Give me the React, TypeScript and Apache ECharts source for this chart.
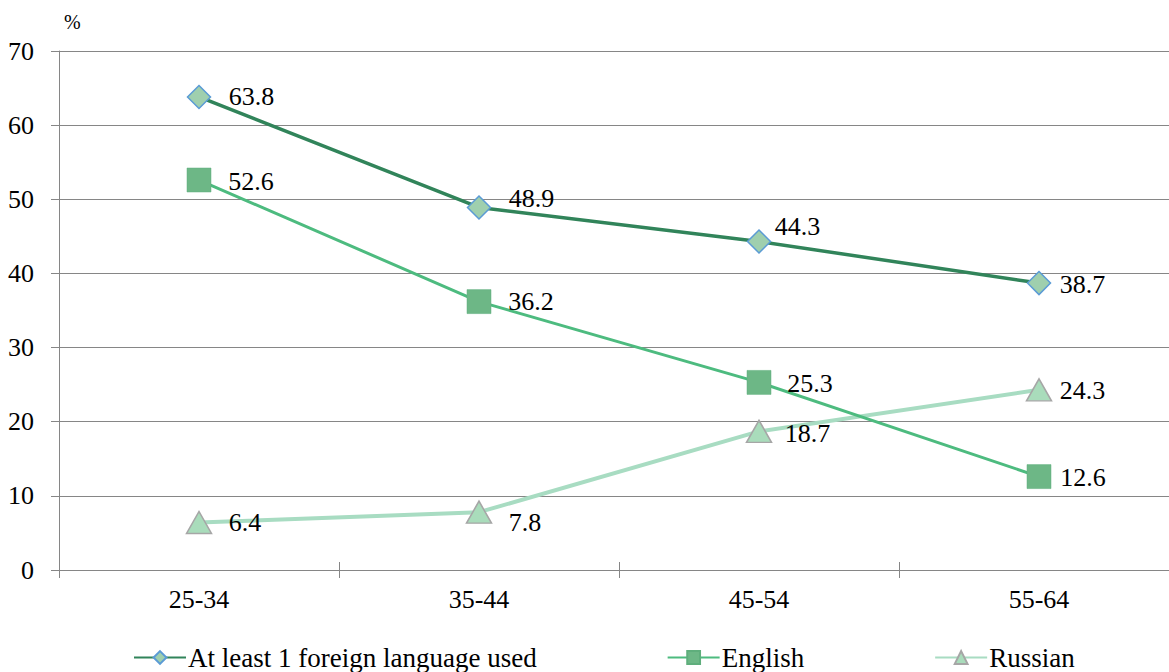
import React, { useEffect, useRef } from "react";
import * as echarts from "echarts";

const categories = ["25-34", "35-44", "45-54", "55-64"];
const atLeastOne = [63.8, 48.9, 44.3, 38.7];
const english = [52.6, 36.2, 25.3, 12.6];
const russian = [6.4, 7.8, 18.7, 24.3];
const yTicks = { min: 0, max: 70, interval: 10 };

const FONT = "Liberation Serif";
const AXIS_GREY = "#868686";

// per-point label nudges (pixels)
const atLeastOneOffsets = [[0, 0], [0, -9], [-14, -15], [-9, 1]];
const englishOffsets = [[0, 1], [0, 0], [-1, 1], [-8, 1]];
const russianOffsets = [[0, 0], [0, 10], [-4, 2], [-9, 1]];

function withOffsets(values: number[], offsets: number[][]) {
  return values.map((v, i) => ({ value: v, label: { offset: offsets[i] } }));
}

export default function App() {
  const ref = useRef<HTMLDivElement>(null);
  useEffect(() => {
    if (!ref.current) return;
    const chart = echarts.init(ref.current, undefined, { renderer: "svg" });
    const labelBase = {
      show: true,
      position: "right",
      color: "#000",
      fontFamily: FONT,
      fontSize: 26,
    };
    chart.setOption({
      animation: false,
      backgroundColor: "#ffffff",
      grid: { left: 59, top: 51, right: 1, height: 519, containLabel: false },
      graphic: [
        {
          type: "text",
          left: 64,
          top: 12,
          style: { text: "%", fontFamily: FONT, fontSize: 20, fill: "#000" },
        },
      ],
      legend: {
        left: 133,
        top: 644,
        padding: 0,
        itemWidth: 52,
        itemHeight: 16,
        itemGap: 130,
        textStyle: { fontFamily: FONT, fontSize: 27, color: "#000", padding: [0, 0, 0, -3] },
        data: ["At least 1 foreign language used", "English", "Russian"],
      },
      xAxis: [
        {
          type: "category",
          data: categories,
          boundaryGap: true,
          axisLine: { show: true, lineStyle: { color: AXIS_GREY, width: 1 } },
          axisTick: { show: true, length: 8, lineStyle: { color: AXIS_GREY } },
          axisLabel: { color: "#000", fontFamily: FONT, fontSize: 26, margin: 16 },
          splitLine: { show: false },
        },
        {
          type: "category",
          data: categories,
          position: "bottom",
          boundaryGap: true,
          axisLine: { show: false },
          axisTick: { show: true, inside: true, length: 8, lineStyle: { color: AXIS_GREY } },
          axisLabel: { show: false },
          splitLine: { show: false },
        },
      ],
      yAxis: {
        type: "value",
        min: yTicks.min,
        max: yTicks.max,
        interval: yTicks.interval,
        axisLine: { show: true, lineStyle: { color: AXIS_GREY, width: 1 } },
        axisTick: { show: true, length: 8, lineStyle: { color: AXIS_GREY } },
        axisLabel: { color: "#000", fontFamily: FONT, fontSize: 26, margin: 25 },
        splitLine: { show: true, lineStyle: { color: AXIS_GREY, width: 1 } },
      },
      series: [
        {
          name: "Russian",
          type: "line",
          data: withOffsets(russian, russianOffsets),
          symbol: "triangle",
          symbolSize: [25, 22],
          z: 2,
          lineStyle: { color: "#a8dcc2", width: 4 },
          itemStyle: { color: "#a9dcbb", borderColor: "#a6a6a6", borderWidth: 1.5 },
          label: { ...labelBase, distance: 16.5 },
        },
        {
          name: "English",
          type: "line",
          data: withOffsets(english, englishOffsets),
          symbol: "rect",
          symbolSize: 24,
          z: 3,
          lineStyle: { color: "#4dbb7f", width: 3 },
          itemStyle: { color: "#6db786", borderColor: "#5fae7c", borderWidth: 0.5 },
          label: { ...labelBase, distance: 17 },
        },
        {
          name: "At least 1 foreign language used",
          type: "line",
          data: withOffsets(atLeastOne, atLeastOneOffsets),
          symbol: "diamond",
          symbolSize: 23,
          z: 4,
          lineStyle: { color: "#31845a", width: 3.5 },
          itemStyle: { color: "#9fcfae", borderColor: "#5b9bd5", borderWidth: 1.5 },
          label: { ...labelBase, distance: 17.5 },
        },
      ],
    });
    return () => chart.dispose();
  }, []);
  return (
    <div style={{ position: "fixed", left: 0, top: 0, width: 1169, height: 672, overflow: "hidden" }}>
      <div ref={ref} style={{ width: 1180, height: 672 }} />
    </div>
  );
}
